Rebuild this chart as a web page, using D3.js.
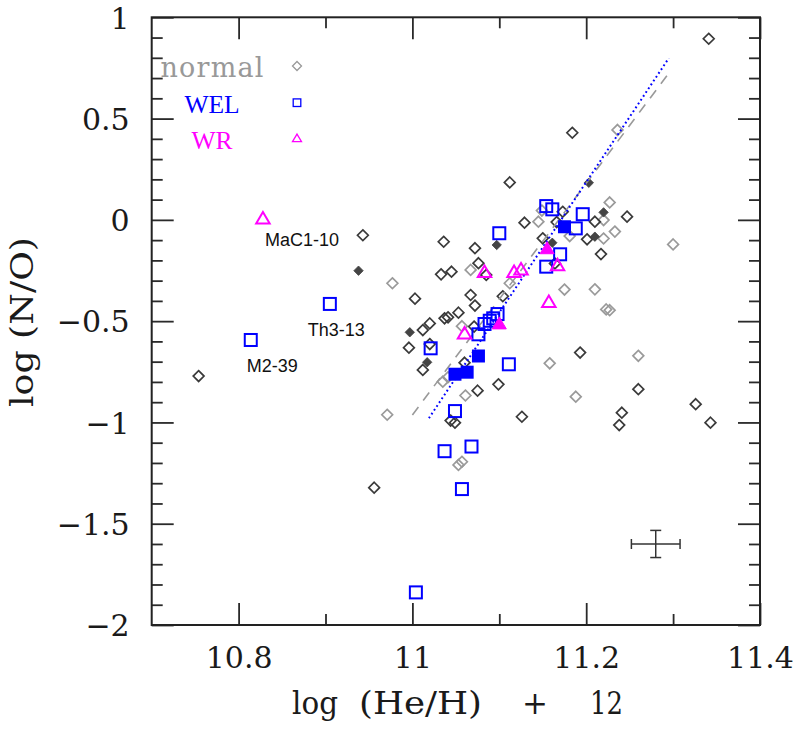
<!DOCTYPE html>
<html><head><meta charset="utf-8">
<script src="https://cdn.jsdelivr.net/npm/d3@7"></script>
<style>body{margin:0;background:#fff}svg{display:block}</style>
</head><body>
<svg id="chart" width="802" height="729"></svg>
<script>
// ---------- DATA ----------
const normalDark = [
 [10.943,-0.076],[11.036,-0.108],[11.033,-0.269],[11.045,-0.256],[11.003,-0.389],
 [11.112,0.185],[11.072,-0.140],[11.076,-0.214],[11.085,-0.272],[11.067,-0.371],
 [11.072,-0.423],[11.104,-0.377],[11.173,0.040],[11.247,0.016],[11.129,-0.014],
 [11.166,-0.011],[11.210,-0.009],[11.201,-0.096],[11.217,-0.169],[11.150,-0.091],
 [11.164,-0.215],[11.341,0.894],[11.184,0.430],[11.053,-0.458],[11.037,-0.486],
 [11.041,-0.481],[11.020,-0.511],[11.012,-0.544],[10.996,-0.631],[11.020,-0.613],
 [11.012,-0.741],[11.071,-0.527],[11.060,-0.705],[11.075,-0.843],[11.099,-0.812],
 [11.044,-0.991],[11.049,-1.001],[10.754,-0.771],[10.956,-1.322],[11.193,-0.655],
 [11.260,-0.836],[11.126,-0.972],[11.241,-0.952],[11.238,-1.013],[11.326,-0.910],
 [11.343,-1.001]
];
const normalLight = [
 [10.977,-0.313],[11.067,-0.247],[11.112,-0.313],[11.227,0.086],[11.149,0.046],
 [11.145,-0.009],[11.220,-0.001],[11.233,-0.058],[11.181,-0.080],[11.220,-0.092],
 [11.175,-0.344],[11.210,-0.343],[11.223,-0.442],[11.227,-0.446],[11.236,0.444],
 [11.300,-0.121],[11.057,-0.525],[11.041,-0.777],[11.035,-0.799],[11.061,-0.867],
 [10.971,-0.962],[11.053,-1.210],[11.057,-1.194],[11.158,-0.708],[11.260,-0.671],
 [11.188,-0.873]
];
const normalFilled = [
 [10.938,-0.251],[11.097,-0.124],[11.203,0.183],[11.220,0.037],[11.210,-0.083],
 [11.161,-0.113],[10.997,-0.555],[11.017,-0.703]
];
const welOpen = [
 [10.814,-0.593],[10.905,-0.415],[11.100,-0.066],[11.154,0.068],[11.161,0.052],
 [11.196,0.028],[11.188,-0.042],[11.170,-0.170],[11.154,-0.231],[11.021,-0.634],
 [11.076,-0.565],[11.083,-0.514],[11.089,-0.498],[11.093,-0.486],[11.098,-0.465],
 [11.111,-0.713],[11.049,-0.944],[11.037,-1.142],[11.068,-1.119],[11.057,-1.329],
 [11.004,-1.839]
];
const welFilled = [[11.175,-0.034],[11.076,-0.672],[11.063,-0.752],[11.049,-0.762]];
const wrOpen = [
 [10.828,0.008],[11.083,-0.256],[11.117,-0.256],[11.125,-0.244],[11.167,-0.223],
 [11.157,-0.404],[11.060,-0.560]
];
const wrFilled = [[11.155,-0.140],[11.100,-0.511]];
const fitNormal = [[11.0,-0.963],[11.297,0.735]];
const fitWEL = [[11.019,-0.979],[11.295,0.798]];
const errorBar = {x:11.28, y:-1.60, dx:0.028, dy:0.067};
const labels = [
 {name:"MaC1-10", at:[10.828,0.008], dx:2, dy:28},
 {name:"Th3-13", at:[10.905,-0.415], dx:-22, dy:32},
 {name:"M2-39", at:[10.814,-0.593], dx:-4, dy:32}
];
const xMajor = [10.8,11.0,11.2,11.4];
const xMajorLabels = ["10.8","11","11.2","11.4"];
const xMinor = [10.9,11.1,11.3];
const yMajor = [1,0.5,0,-0.5,-1,-1.5,-2];
const yMajorLabels = ["1","0.5","0","\u22120.5","\u22121","\u22121.5","\u22122"];
const yMinor = d3.range(-19,10).map(v=>v/10).filter(v=>Math.abs(v*2-Math.round(v*2))>1e-6);
const legendItems = [
 {text:"normal", color:"#999999", shape:"diamond", width:103, font:"'DejaVu Serif', serif", size:27},
 {text:"WEL", color:"#0000ff", shape:"square", width:null, font:"'Liberation Serif', serif", size:25.5},
 {text:"WR", color:"#ff00ff", shape:"triangle", width:null, font:"'Liberation Serif', serif", size:25.5}
];

// ---------- CHART ----------
const svg = d3.select("#chart");
const L=151.7, R=760, T=17.3, B=625;
const x = d3.scaleLinear().domain([10.7,11.4]).range([L,R]);
const y = d3.scaleLinear().domain([-2,1]).range([B,T]);
const serif = "'DejaVu Serif', serif";
const tickColor = "#2a2a2a";

function styleAxis(g){
  g.select(".domain").remove();
  g.selectAll(".tick line").attr("stroke",tickColor).attr("stroke-width",1.8);
}
// bottom
svg.append("g").attr("transform",`translate(0,${B})`)
  .call(d3.axisBottom(x).tickValues(xMajor).tickSize(-22)
    .tickFormat((d,i)=>xMajorLabels[i]))
  .call(styleAxis)
  .call(g=>g.selectAll("text").attr("y",43).attr("dy",0)
    .attr("font-family",serif).attr("font-size",30).attr("fill","#1a1a1a"));
svg.append("g").attr("transform",`translate(0,${B})`)
  .call(d3.axisBottom(x).tickValues(xMinor).tickSize(-11).tickFormat(""))
  .call(styleAxis);
// top
svg.append("g").attr("transform",`translate(0,${T})`)
  .call(d3.axisTop(x).tickValues(xMajor).tickSize(-22).tickFormat(""))
  .call(styleAxis);
svg.append("g").attr("transform",`translate(0,${T})`)
  .call(d3.axisTop(x).tickValues(xMinor).tickSize(-11).tickFormat(""))
  .call(styleAxis);
// left
svg.append("g").attr("transform",`translate(${L},0)`)
  .call(d3.axisLeft(y).tickValues(yMajor).tickSize(-22)
    .tickFormat((d,i)=>yMajorLabels[i]))
  .call(styleAxis)
  .call(g=>g.selectAll("text").attr("x",-22).attr("dy","0.36em")
    .attr("font-family",serif).attr("font-size",30).attr("fill","#1a1a1a"));
svg.append("g").attr("transform",`translate(${L},0)`)
  .call(d3.axisLeft(y).tickValues(yMinor).tickSize(-11).tickFormat(""))
  .call(styleAxis);
// right
svg.append("g").attr("transform",`translate(${R},0)`)
  .call(d3.axisRight(y).tickValues(yMajor).tickSize(-22).tickFormat(""))
  .call(styleAxis);
svg.append("g").attr("transform",`translate(${R},0)`)
  .call(d3.axisRight(y).tickValues(yMinor).tickSize(-11).tickFormat(""))
  .call(styleAxis);

// frame
svg.append("rect").attr("x",L).attr("y",T).attr("width",R-L).attr("height",B-T)
  .attr("fill","none").attr("stroke","#222").attr("stroke-width",2);

// axis titles
const xt = svg.append("g").attr("font-family",serif).attr("font-size",31).attr("fill","#1a1a1a");
xt.append("text").attr("x",292).attr("y",714).attr("textLength",46).attr("lengthAdjust","spacingAndGlyphs").text("log");
xt.append("text").attr("x",359).attr("y",714).attr("textLength",123).attr("lengthAdjust","spacingAndGlyphs").text("(He/H)");
xt.append("text").attr("x",535).attr("y",714).attr("text-anchor","middle").text("+");
xt.append("text").attr("x",590).attr("y",714).attr("textLength",33).attr("lengthAdjust","spacingAndGlyphs").text("12");
svg.append("text").attr("transform","translate(33,322) rotate(-90)")
  .attr("text-anchor","middle").attr("font-family",serif).attr("font-size",31)
  .attr("fill","#1a1a1a").attr("textLength",170).attr("lengthAdjust","spacingAndGlyphs")
  .text("log (N/O)");

// shapes
const diamond = r => `M0,${-r}L${r},0L0,${r}L${-r},0Z`;
const tri = (w,h) => `M0,${-h/2-0.5}L${w/2},${h/2-0.5}L${-w/2},${h/2-0.5}Z`;
const pts = svg.append("g");
function drawDiamonds(data, r, stroke, fill, sw){
  pts.append("g").selectAll("path").data(data).join("path")
    .attr("transform",d=>`translate(${x(d[0])},${y(d[1])})`)
    .attr("d",diamond(r)).attr("fill",fill).attr("stroke",stroke).attr("stroke-width",sw);
}
drawDiamonds(normalLight,5.4,"#9a9a9a","none",1.7);
drawDiamonds(normalDark,5.4,"#3a3a3a","none",1.7);
drawDiamonds(normalFilled,4.7,"#444","#444",0.8);

// fit lines
const line = d3.line().x(d=>x(d[0])).y(d=>y(d[1]));
pts.append("path").datum(fitNormal).attr("d",line).attr("fill","none")
  .attr("stroke","#999").attr("stroke-width",1.6).attr("stroke-dasharray","10,8");
pts.append("path").datum(fitWEL).attr("d",line).attr("fill","none")
  .attr("stroke","#0000ff").attr("stroke-width",2).attr("stroke-dasharray","1.8,2.8");

// WEL squares
const sq = 12;
pts.append("g").selectAll("rect").data(welOpen).join("rect")
  .attr("x",d=>x(d[0])-sq/2).attr("y",d=>y(d[1])-sq/2).attr("width",sq).attr("height",sq)
  .attr("fill","none").attr("stroke","#0000ff").attr("stroke-width",2);
pts.append("g").selectAll("rect").data(welFilled).join("rect")
  .attr("x",d=>x(d[0])-sq/2-0.5).attr("y",d=>y(d[1])-sq/2-0.5).attr("width",sq+1).attr("height",sq+1)
  .attr("fill","#0000ff");
// WR triangles
pts.append("g").selectAll("path").data(wrOpen).join("path")
  .attr("transform",d=>`translate(${x(d[0])},${y(d[1])})`)
  .attr("d",tri(13.5,11.5)).attr("fill","none").attr("stroke","#ff00ff").attr("stroke-width",2);
pts.append("g").selectAll("path").data(wrFilled).join("path")
  .attr("transform",d=>`translate(${x(d[0])},${y(d[1])})`)
  .attr("d",tri(14,12)).attr("fill","#ff00ff").attr("stroke","#ff00ff").attr("stroke-width",1);

// labels
svg.append("g").selectAll("text").data(labels).join("text")
  .attr("x",d=>x(d.at[0])+d.dx).attr("y",d=>y(d.at[1])+d.dy)
  .attr("font-family","'Liberation Sans', Arial, sans-serif").attr("font-size",18)
  .attr("fill","#111").text(d=>d.name);

// error bar
const eb = svg.append("g").attr("stroke","#333").attr("stroke-width",1.5);
const ex0=x(errorBar.x-errorBar.dx), ex1=x(errorBar.x+errorBar.dx), ecx=x(errorBar.x);
const ey0=y(errorBar.y-errorBar.dy), ey1=y(errorBar.y+errorBar.dy), ecy=y(errorBar.y);
eb.append("line").attr("x1",ex0).attr("x2",ex1).attr("y1",ecy).attr("y2",ecy);
eb.append("line").attr("x1",ecx).attr("x2",ecx).attr("y1",ey0).attr("y2",ey1);
eb.append("line").attr("x1",ex0).attr("x2",ex0).attr("y1",ecy-5).attr("y2",ecy+5);
eb.append("line").attr("x1",ex1).attr("x2",ex1).attr("y1",ecy-5).attr("y2",ecy+5);
eb.append("line").attr("x1",ecx-5.5).attr("x2",ecx+5.5).attr("y1",ey0).attr("y2",ey0);
eb.append("line").attr("x1",ecx-5.5).attr("x2",ecx+5.5).attr("y1",ey1).attr("y2",ey1);

// legend
const lg = svg.append("g");
const legY = [77,113,149], markY=[66,102.7,138.3];
legendItems.forEach((it,i)=>{
  const t = lg.append("text").attr("x",212).attr("y",legY[i]).attr("text-anchor","middle")
    .attr("font-family",it.font).attr("font-size",it.size)
    .attr("fill",it.color).text(it.text);
  if(it.width) t.attr("textLength",it.width).attr("lengthAdjust","spacing");
  const m = lg.append("g").attr("transform",`translate(297,${markY[i]})`);
  if(it.shape==="diamond") m.append("path").attr("d",diamond(4.5)).attr("fill","none").attr("stroke",it.color).attr("stroke-width",1.3);
  if(it.shape==="square") m.append("rect").attr("x",-3.8).attr("y",-3.8).attr("width",7.6).attr("height",7.6).attr("fill","none").attr("stroke",it.color).attr("stroke-width",1.3);
  if(it.shape==="triangle") m.append("path").attr("d",tri(9,7.5)).attr("fill","none").attr("stroke",it.color).attr("stroke-width",1.3);
});
</script>
</body></html>
